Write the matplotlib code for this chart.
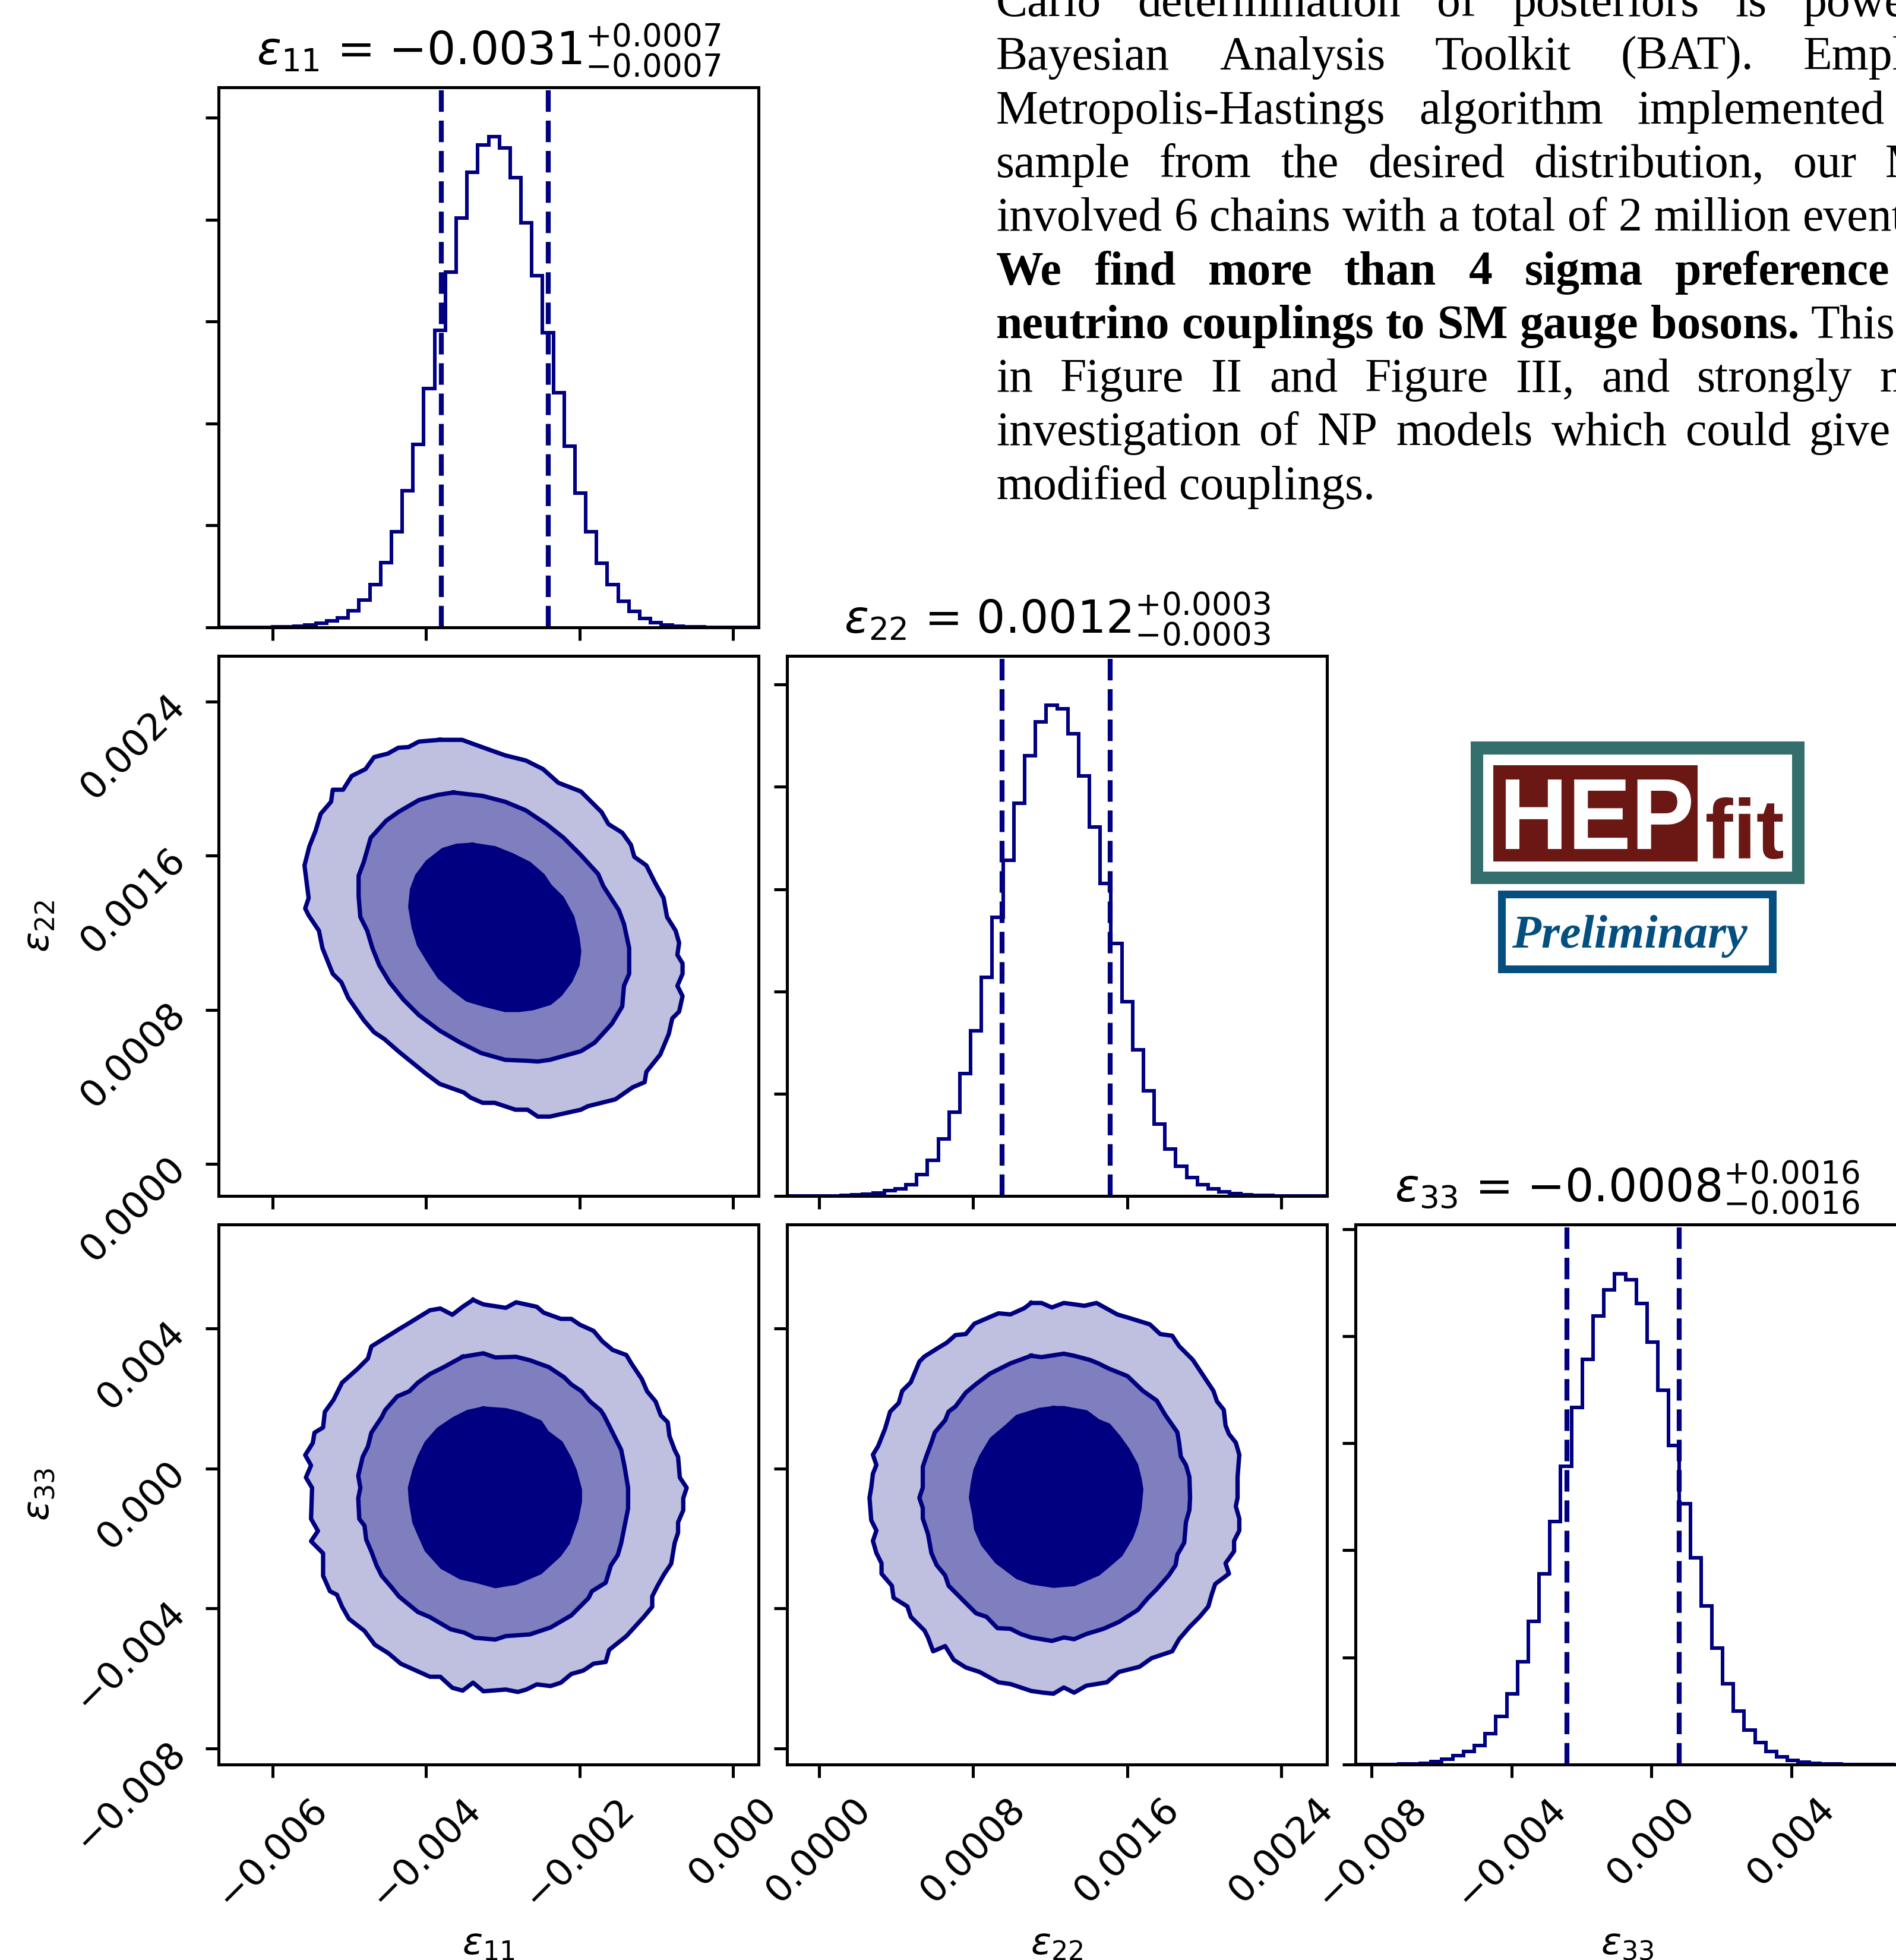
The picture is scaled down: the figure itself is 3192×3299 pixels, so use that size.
import matplotlib
matplotlib.use("Agg")
import matplotlib.pyplot as plt
import numpy as np
from matplotlib.font_manager import FontProperties
from matplotlib.patches import PathPatch, Rectangle
from matplotlib.textpath import TextPath
from matplotlib.ticker import FixedLocator, MultipleLocator
from matplotlib.transforms import Affine2D

# --- posterior summary -------------------------------------------------------
labels = [r"$\varepsilon_{11}$", r"$\varepsilon_{22}$", r"$\varepsilon_{33}$"]
central = [-0.0031, 0.0012, -0.0008]
errors = [0.0007, 0.0003, 0.0016]
means = [-0.0031, 0.00123, -0.00081]
sigmas = [0.0007, 0.0003, 0.0016]
q16 = [-0.0038, 0.00095, -0.00241]
q84 = [-0.00241, 0.00151, 0.00079]
ranges = [(-0.0067, 0.00033), (-0.000166, 0.002637), (-0.00846, 0.00697)]
ticks = [[-0.006, -0.004, -0.002, 0.0],
         [0.0, 0.0008, 0.0016, 0.0024],
         [-0.008, -0.004, 0.0, 0.004]]

# --- 1D marginals (50 bins over each range) ----------------------------------
hist11 = [0, 0, 10, 20, 50, 100, 170, 280, 480, 830, 1240, 1860, 3310, 5310,
          8410, 12760, 18760, 26760, 35860, 46830, 58280, 69660, 80340, 89310,
          94690, 96340, 94140, 88280, 79450, 68970, 57790, 46070, 35520, 26340,
          18760, 12620, 8410, 5170, 3100, 1720, 900, 480, 280, 140, 70, 40, 20,
          10, 5, 0]
hist22 = [0, 0, 0, 10, 30, 80, 190, 340, 540, 1010, 1350, 2160, 4180, 6940,
          11120, 16370, 23900, 32350, 42780, 54530, 65660, 76800, 86110, 92740,
          96000, 95230, 90430, 82080, 72190, 61150, 49340, 38020, 28610, 20540,
          14020, 9220, 5860, 3550, 2210, 1340, 810, 480, 290, 130, 70, 40, 20,
          10, 5, 0]
hist33 = [0, 0, 10, 30, 60, 120, 260, 520, 960, 1610, 2440, 3550, 5800, 9020,
          13200, 19140, 26730, 35630, 45420, 55730, 66680, 75700, 83760, 88590,
          91680, 90520, 86140, 78930, 69910, 59590, 48650, 38650, 29640, 21710,
          15140, 9980, 6450, 4060, 2440, 1420, 770, 450, 260, 120, 70, 40, 20,
          10, 5, 0]
counts = [hist11, hist22, hist33]

# --- 2D credible regions (99.7 %, 95 %, 68 %), offsets from the mean in
#     units of each parameter's sigma, traced along the boundary -------------
c10_outer = [
    (-1.032, 3.238), (-0.615, 3.238), (-0.263, 3.119), (0.186, 2.970),
    (0.571, 2.881), (0.891, 2.732), (1.179, 2.494), (1.596, 2.345),
    (1.981, 1.988), (2.109, 1.780), (2.365, 1.631), (2.526, 1.423),
    (2.590, 1.214), (2.814, 1.065), (2.974, 0.768), (3.135, 0.500),
    (3.199, 0.173), (3.359, -0.065), (3.423, -0.274), (3.391, -0.482),
    (3.487, -0.631), (3.487, -0.810), (3.391, -1.018), (3.487, -1.196),
    (3.423, -1.464), (3.295, -1.583), (3.231, -1.851), (3.071, -2.208),
    (2.814, -2.506), (2.782, -2.685), (2.558, -2.774), (2.237, -2.982),
    (1.724, -3.101), (1.596, -3.161), (1.019, -3.280), (0.795, -3.280),
    (0.603, -3.161), (0.378, -3.161), (-0.006, -3.042), (-0.231, -3.042),
    (-0.455, -2.952), (-0.583, -2.863), (-1.032, -2.714), (-1.288, -2.536),
    (-1.801, -2.149), (-2.058, -1.940), (-2.250, -1.821), (-2.442, -1.613),
    (-2.731, -1.226), (-2.859, -0.958), (-3.019, -0.810), (-3.212, -0.363),
    (-3.276, -0.065), (-3.468, 0.202), (-3.532, 0.321), (-3.468, 0.500),
    (-3.545, 1.065), (-3.455, 1.393), (-3.340, 1.661), (-3.244, 1.958),
    (-3.051, 2.167), (-3.019, 2.375), (-2.827, 2.375), (-2.667, 2.613),
    (-2.410, 2.732), (-2.250, 2.940), (-1.994, 3.000), (-1.801, 3.101),
    (-1.609, 3.113), (-1.417, 3.208),
]
c10_mid = [
    (-0.776, 2.327), (-0.231, 2.268), (0.186, 2.167), (0.571, 2.018),
    (0.955, 1.780), (1.276, 1.542), (1.596, 1.244), (1.917, 0.917),
    (2.013, 0.708), (2.301, 0.292), (2.397, 0.054), (2.494, -0.363),
    (2.494, -0.810), (2.397, -1.018), (2.365, -1.375), (2.173, -1.673),
    (1.853, -2.000), (1.596, -2.149), (1.019, -2.298), (0.795, -2.327),
    (0.603, -2.315), (0.186, -2.298), (-0.263, -2.179), (-0.647, -2.000),
    (-1.032, -1.792), (-1.417, -1.524), (-1.705, -1.256), (-1.962, -0.958),
    (-2.154, -0.661), (-2.282, -0.363), (-2.378, -0.065), (-2.506, 0.173),
    (-2.538, 0.530), (-2.538, 0.887), (-2.442, 1.125), (-2.314, 1.542),
    (-2.026, 1.839), (-1.801, 1.988), (-1.417, 2.196), (-1.064, 2.286),
]
c10_inner = [
    (-0.423, 1.423), (-0.006, 1.363), (0.314, 1.244), (0.635, 1.095),
    (0.891, 0.887), (1.019, 0.708), (1.244, 0.500), (1.436, 0.173),
    (1.532, -0.185), (1.564, -0.423), (1.532, -0.661), (1.404, -0.929),
    (1.212, -1.167), (1.019, -1.315), (0.699, -1.405), (0.442, -1.435),
    (0.186, -1.435), (-0.199, -1.345), (-0.519, -1.256), (-0.776, -1.077),
    (-1.032, -0.869), (-1.224, -0.601), (-1.417, -0.304), (-1.513, -0.006),
    (-1.577, 0.351), (-1.545, 0.649), (-1.449, 0.887), (-1.256, 1.125),
    (-0.968, 1.333), (-0.712, 1.405),
]
c20_outer = [
    (-0.410, 3.516), (-0.218, 3.436), (0.199, 3.374), (0.391, 3.473),
    (0.776, 3.393), (0.904, 3.288), (1.224, 3.177), (1.417, 3.177),
    (1.577, 3.073), (1.833, 2.962), (1.994, 2.777), (2.186, 2.623),
    (2.442, 2.531), (2.538, 2.377), (2.731, 2.100), (2.827, 1.884),
    (2.987, 1.700), (3.083, 1.453), (3.212, 1.330), (3.244, 1.084),
    (3.340, 0.837), (3.404, 0.714), (3.436, 0.345), (3.564, 0.160),
    (3.500, -0.025), (3.500, -0.240), (3.404, -0.456), (3.404, -0.640),
    (3.340, -0.825), (3.276, -1.195), (3.147, -1.379), (3.019, -1.595),
    (2.923, -1.779), (2.923, -1.964), (2.763, -2.149), (2.442, -2.488),
    (2.122, -2.734), (2.058, -2.949), (1.833, -2.980), (1.641, -3.103),
    (1.417, -3.165), (1.224, -3.319), (1.032, -3.380), (0.776, -3.350),
    (0.583, -3.442), (0.423, -3.485), (0.199, -3.442), (-0.218, -3.473),
    (-0.410, -3.319), (-0.603, -3.461), (-0.795, -3.411), (-1.019, -3.214),
    (-1.212, -3.214), (-1.756, -2.980), (-1.981, -2.796), (-2.237, -2.642),
    (-2.429, -2.395), (-2.718, -2.180), (-2.846, -1.964), (-2.942, -1.749),
    (-3.071, -1.687), (-3.199, -1.410), (-3.199, -1.010), (-3.423, -0.794),
    (-3.295, -0.610), (-3.423, -0.394), (-3.404, 0.160), (-3.519, 0.345),
    (-3.423, 0.560), (-3.532, 0.745), (-3.391, 0.961), (-3.359, 1.145),
    (-3.199, 1.238), (-3.167, 1.515), (-3.006, 1.730), (-2.846, 2.038),
    (-2.558, 2.284), (-2.365, 2.469), (-2.301, 2.685), (-2.045, 2.839),
    (-1.788, 2.993), (-1.628, 3.085), (-1.212, 3.331), (-1.019, 3.362),
    (-0.795, 3.251), (-0.603, 3.393),
]
c20_mid = [
    (-0.603, 2.500), (-0.218, 2.562), (0.006, 2.488), (0.391, 2.500),
    (0.647, 2.438), (1.000, 2.315), (1.288, 2.131), (1.417, 2.007),
    (1.609, 1.884), (1.769, 1.700), (1.962, 1.546), (2.026, 1.453),
    (2.154, 1.207), (2.282, 0.961), (2.346, 0.837), (2.410, 0.530),
    (2.474, 0.160), (2.474, -0.209), (2.410, -0.517), (2.346, -0.825),
    (2.282, -1.041), (2.154, -1.225), (2.058, -1.533), (1.801, -1.687),
    (1.737, -1.810), (1.417, -2.118), (1.032, -2.334), (0.647, -2.457),
    (0.199, -2.488), (0.006, -2.549), (-0.378, -2.518), (-0.571, -2.426),
    (-0.827, -2.365), (-1.212, -2.149), (-1.436, -2.057), (-1.788, -1.780),
    (-1.917, -1.626), (-2.109, -1.410), (-2.205, -1.225), (-2.301, -0.979),
    (-2.397, -0.764), (-2.429, -0.517), (-2.526, -0.394), (-2.545, -0.025),
    (-2.506, 0.160), (-2.545, 0.376), (-2.462, 0.714), (-2.365, 0.899),
    (-2.301, 1.145), (-2.109, 1.422), (-2.045, 1.546), (-1.821, 1.792),
    (-1.596, 1.884), (-1.436, 2.038), (-1.212, 2.192), (-0.955, 2.315),
]
c20_inner = [
    (-0.218, 1.576), (0.199, 1.546), (0.455, 1.484), (0.840, 1.330),
    (0.968, 1.145), (1.224, 0.961), (1.385, 0.683), (1.481, 0.468),
    (1.577, 0.129), (1.577, -0.086), (1.513, -0.394), (1.353, -0.825),
    (1.192, -1.041), (0.840, -1.349), (0.391, -1.533), (0.006, -1.595),
    (-0.346, -1.502), (-0.635, -1.441), (-0.987, -1.256), (-1.276, -0.948),
    (-1.404, -0.671), (-1.500, -0.456), (-1.564, -0.086), (-1.583, 0.160),
    (-1.500, 0.468), (-1.404, 0.714), (-1.276, 0.961), (-1.051, 1.207),
    (-0.763, 1.392), (-0.506, 1.515),
]
c21_outer = [
    (-0.429, 3.461), (-0.250, 3.461), (-0.071, 3.381), (0.137, 3.461),
    (0.494, 3.411), (0.702, 3.461), (1.060, 3.257), (1.298, 3.184),
    (1.625, 3.079), (1.804, 2.906), (2.012, 2.876), (2.131, 2.691),
    (2.369, 2.445), (2.548, 2.167), (2.726, 1.890), (2.786, 1.706),
    (2.905, 1.552), (2.935, 1.275), (2.994, 1.121), (3.113, 0.967),
    (3.173, 0.751), (3.143, 0.351), (3.143, -0.018), (3.113, -0.172),
    (3.173, -0.388), (3.173, -0.603), (3.083, -0.788), (3.083, -0.973),
    (2.935, -1.188), (2.994, -1.373), (2.756, -1.558), (2.696, -1.743),
    (2.637, -1.958), (2.488, -2.143), (2.310, -2.328), (2.131, -2.543),
    (2.012, -2.759), (1.655, -2.882), (1.446, -3.036), (1.089, -3.128),
    (0.881, -3.313), (0.524, -3.374), (0.315, -3.498), (0.137, -3.405),
    (-0.042, -3.516), (-0.220, -3.498), (-0.429, -3.467), (-0.786, -3.344),
    (-0.994, -3.313), (-1.321, -3.128), (-1.560, -3.048), (-1.768, -2.913),
    (-1.917, -2.666), (-2.125, -2.759), (-2.214, -2.512), (-2.274, -2.389),
    (-2.512, -2.143), (-2.571, -1.958), (-2.810, -1.804), (-2.839, -1.589),
    (-3.018, -1.373), (-3.018, -1.188), (-3.107, -1.004), (-3.167, -0.788),
    (-3.107, -0.603), (-3.196, -0.419), (-3.226, -0.018), (-3.196, 0.166),
    (-3.167, 0.413), (-3.107, 0.567), (-3.167, 0.751), (-3.077, 0.905),
    (-2.958, 1.213), (-2.869, 1.521), (-2.720, 1.675), (-2.661, 1.890),
    (-2.512, 2.044), (-2.363, 2.414), (-2.274, 2.506), (-2.036, 2.660),
    (-1.887, 2.753), (-1.738, 2.888), (-1.560, 2.906), (-1.411, 3.091),
    (-1.202, 3.184), (-0.994, 3.276), (-0.786, 3.257), (-0.548, 3.368),
]
c21_mid = [
    (-0.429, 2.518), (-0.250, 2.494), (0.137, 2.555), (0.315, 2.518),
    (0.583, 2.445), (0.732, 2.383), (0.911, 2.291), (1.238, 2.155),
    (1.506, 1.890), (1.744, 1.718), (1.893, 1.459), (2.101, 1.151),
    (2.131, 0.967), (2.161, 0.720), (2.250, 0.567), (2.310, 0.351),
    (2.321, -0.018), (2.310, -0.234), (2.250, -0.450), (2.220, -0.819),
    (2.101, -1.034), (2.071, -1.219), (1.952, -1.404), (1.744, -1.650),
    (1.595, -1.804), (1.417, -2.020), (1.089, -2.235), (0.821, -2.358),
    (0.524, -2.451), (0.315, -2.543), (0.137, -2.512), (-0.071, -2.574),
    (-0.429, -2.512), (-0.607, -2.451), (-0.786, -2.358), (-1.012, -2.346),
    (-1.202, -2.143), (-1.381, -2.081), (-1.560, -1.897), (-1.679, -1.773),
    (-1.857, -1.589), (-1.917, -1.404), (-2.065, -1.219), (-2.155, -1.004),
    (-2.214, -0.665), (-2.304, -0.388), (-2.304, -0.203), (-2.363, -0.018),
    (-2.304, 0.166), (-2.304, 0.536), (-2.244, 0.720), (-2.155, 0.967),
    (-2.095, 1.151), (-1.917, 1.367), (-1.857, 1.521), (-1.738, 1.613),
    (-1.560, 1.860), (-1.381, 2.014), (-1.143, 2.198), (-0.786, 2.383),
]
c21_inner = [
    (-0.042, 1.583), (0.137, 1.583), (0.524, 1.509), (0.732, 1.349),
    (0.911, 1.275), (1.089, 1.059), (1.238, 0.844), (1.387, 0.567),
    (1.446, 0.320), (1.476, 0.135), (1.446, -0.203), (1.387, -0.480),
    (1.298, -0.727), (1.119, -1.034), (0.911, -1.219), (0.732, -1.373),
    (0.315, -1.558), (-0.042, -1.589), (-0.429, -1.527), (-0.667, -1.435),
    (-1.024, -1.158), (-1.262, -0.850), (-1.381, -0.573), (-1.411, -0.327),
    (-1.470, -0.018), (-1.440, 0.228), (-1.393, 0.474), (-1.292, 0.720),
    (-1.113, 1.028), (-0.863, 1.244), (-0.667, 1.429), (-0.280, 1.552),
]
contours = {(1, 0): [c10_outer, c10_mid, c10_inner],
            (2, 0): [c20_outer, c20_mid, c20_inner],
            (2, 1): [c21_outer, c21_mid, c21_inner]}

# --- side text ------------------------------------------------------------------
para_lines = [
    [("Carlo determination of posteriors is powered", "normal")],
    [("Bayesian Analysis Toolkit (BAT). Employing", "normal")],
    [("Metropolis-Hastings algorithm implemented", "normal")],
    [("sample from the desired distribution, our MCMC", "normal")],
    [("involved 6 chains with a total of 2 million events", "normal")],
    [("We find more than 4 sigma preference", "bold")],
    [("neutrino couplings to SM gauge bosons.", "bold"), ("This is", "normal")],
    [("in Figure II and Figure III, and strongly motivate", "normal")],
    [("investigation of NP models which could give", "normal")],
    [("modified couplings.", "normal")],
]
# start of the last visible word on justified lines (None = natural spacing)
last_word_x = [3036, 3036, 2756, 3174, None, 2820, None, 3164, 3046, None]

NAVY = "#000080"
FILLS = ["#bfbfdf", "#7f7fbf", "#000080"]

W, H, DPI = 3192, 3299, 456
fig = plt.figure(figsize=(W / DPI, H / DPI), dpi=DPI)

PANEL, STEP, LEFT0, TOP0 = 909, 957, 368, 147


def px_axes(x0, y0, w, h):
    return fig.add_axes([x0 / W, 1 - (y0 + h) / H, w / W, h / H])


for i in range(3):
    for j in range(i + 1):
        extra = 6 if j == 2 else 0
        ax = px_axes(LEFT0 + j * STEP, TOP0 + i * STEP, PANEL + extra, PANEL)
        lo, hi = ranges[j]
        ax.set_xlim(lo, hi + extra * (hi - lo) / PANEL)
        ax.xaxis.set_major_locator(FixedLocator(ticks[j]))
        ax.tick_params(direction="out", length=3.5, width=0.8, labelsize=10)
        for s in ax.spines.values():
            s.set_linewidth(0.8)

        if i == j:
            edges = np.linspace(lo, hi, len(counts[i]) + 1)
            ax.stairs(counts[i], edges, color=NAVY, lw=0.95)
            for q in (q16[i], q84[i]):
                ax.axvline(q, color=NAVY, ls=(0, (4.4, 1.8)), lw=1.3)
            ax.set_ylim(0, 1.1 * max(counts[i]))
            ax.yaxis.set_major_locator(MultipleLocator(20000))
            ax.tick_params(labelleft=False)
            ax.set_title("{} = ${:.4f}_{{-{:.4f}}}^{{+{:.4f}}}$".format(
                labels[i], central[i], errors[i], errors[i]), fontsize=12)
        else:
            shapes = []
            for pts in contours[(i, j)]:
                uv = np.asarray(pts)
                xs = means[j] + uv[:, 0] * sigmas[j]
                ys = means[i] + uv[:, 1] * sigmas[i]
                shapes.append((xs, ys))
            for (xs, ys), c in zip(shapes, FILLS):
                ax.fill(xs, ys, color=c, lw=0)
            for xs, ys in shapes:
                ax.plot(np.append(xs, xs[0]), np.append(ys, ys[0]),
                        color=NAVY, lw=1.15)
            ax.set_ylim(*ranges[i])
            ax.yaxis.set_major_locator(FixedLocator(ticks[i]))
            if j == 0:
                ax.tick_params(axis="y", labelrotation=45)
                ax.set_ylabel(labels[i], fontsize=10)
                ax.yaxis.set_label_coords(-0.3, 0.5)
            else:
                ax.tick_params(labelleft=False)

        if i < 2:
            ax.tick_params(labelbottom=False)
        else:
            ax.tick_params(axis="x", labelrotation=45)
            ax.set_xlabel(labels[j], fontsize=10)
            ax.xaxis.set_label_coords(0.5, -0.3)

# --- overlay in pixel units for the text block and the logo -----------------
ax_o = fig.add_axes([0, 0, 1, 1])
ax_o.set_xlim(0, W)
ax_o.set_ylim(H, 0)
ax_o.axis("off")

renderer = fig.canvas.get_renderer()
PARA_X0, PARA_Y0, PARA_DY, PARA_FS = 1677, 27, 90.3, 12.6


def text_width(s, weight):
    t = ax_o.text(0, 0, s, fontsize=PARA_FS, family="Liberation Serif",
                  weight=weight)
    w = t.get_window_extent(renderer).width
    t.remove()
    return w


for k, segs in enumerate(para_lines):
    y = PARA_Y0 + k * PARA_DY
    words = [(w, wt) for seg, wt in segs for w in seg.split()]
    arts = [ax_o.text(0, y, w, fontsize=PARA_FS, family="Liberation Serif",
                      weight=wt, va="baseline", ha="left") for w, wt in words]
    widths = [a.get_window_extent(renderer).width for a in arts]
    if last_word_x[k] is None:
        gap = text_width("a a", "normal") - text_width("aa", "normal")
    else:
        gap = (last_word_x[k] - PARA_X0 - sum(widths[:-1])) / (len(words) - 1)
    x = PARA_X0
    for a, wd in zip(arts, widths):
        a.set_x(x)
        x += wd + gap

TEAL, RED, BLUE = "#346f6d", "#6b1815", "#044f80"


def fit_text(s, box, color, prop):
    x0, y0, x1, y1 = box
    tp = TextPath((0, 0), s, size=100, prop=prop)
    bb = tp.get_extents()
    tr = (Affine2D().translate(-bb.x0, -bb.y0)
          .scale((x1 - x0) / bb.width, -(y1 - y0) / bb.height)
          .translate(x0, y1))
    ax_o.add_patch(PathPatch(tr.transform_path(tp), fc=color, lw=0))


ax_o.add_patch(Rectangle((2476, 1248), 562, 240, fc=TEAL, lw=0))
ax_o.add_patch(Rectangle((2497, 1270), 520, 197, fc="white", lw=0))
ax_o.add_patch(Rectangle((2514, 1288), 344, 162, fc=RED, lw=0))
sans_bold = FontProperties(family="Liberation Sans", weight="bold")
fit_text("HEP", (2535, 1312, 2847, 1429), "white", sans_bold)
fit_text("fit", (2873, 1342, 3002, 1446), RED, sans_bold)

ax_o.add_patch(Rectangle((2522, 1499), 469, 139, fc=BLUE, lw=0))
ax_o.add_patch(Rectangle((2535, 1512), 443, 113, fc="white", lw=0))
serif_bi = FontProperties(family="Liberation Serif", weight="bold",
                          style="italic")
fit_text("Preliminary", (2546, 1540, 2942, 1612), BLUE, serif_bi)

fig.savefig("out.png", dpi=DPI)
